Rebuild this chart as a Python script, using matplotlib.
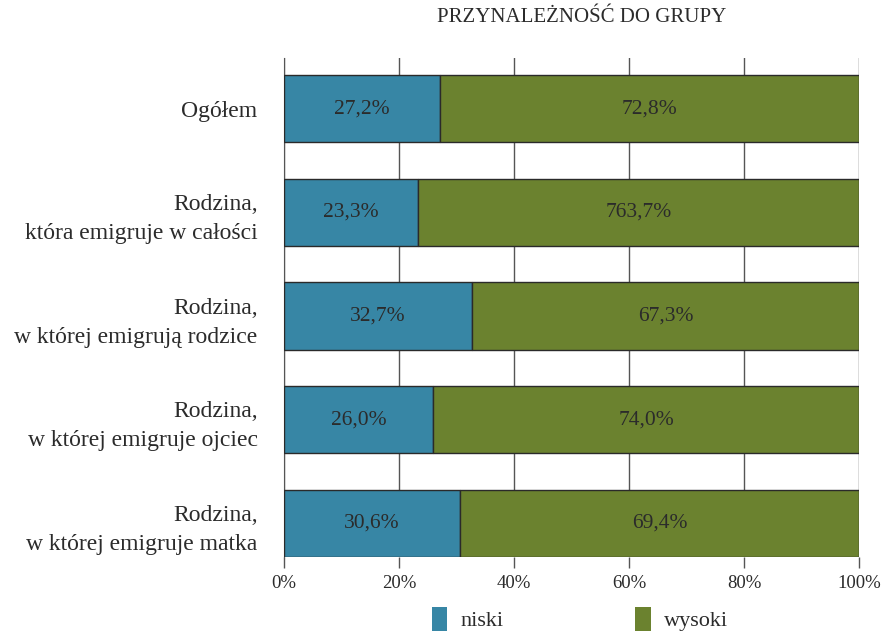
import numpy as np
import matplotlib.pyplot as plt
from matplotlib.patches import Patch

plt.rcParams['font.family'] = ['Liberation Serif', 'DejaVu Serif']

categories = ['Ogółem',
              'Rodzina,\nktóra emigruje w całości',
              'Rodzina,\nw której emigrują rodzice',
              'Rodzina,\nw której emigruje ojciec',
              'Rodzina,\nw której emigruje matka']
niski = [27.2, 23.3, 32.7, 26.0, 30.6]
wysoki = [72.8, 76.7, 67.3, 74.0, 69.4]
niski_labels = ['27,2%', '23,3%', '32,7%', '26,0%', '30,6%']
wysoki_labels = ['72,8%', '763,7%', '67,3%', '74,0%', '69,4%']
xticks = [0, 20, 40, 60, 80, 100]

c_blue = '#3786a5'
c_green = '#6b822f'
txt = '#2b2b2b'

fig = plt.figure(figsize=(8.86, 6.34), dpi=100)
ax = fig.add_axes([0.3205, 0.1215, 0.649, 0.787])

y = np.arange(len(categories))
h = 0.65
ax.barh(y, niski, height=h, color=c_blue, edgecolor='#2a2a2a', linewidth=1, zorder=3)
ax.barh(y, wysoki, left=niski, height=h, color=c_green, edgecolor='#2a2a2a', linewidth=1, zorder=3)

for i in range(len(categories)):
    ax.text(niski[i] / 2, y[i], niski_labels[i], ha='center', va='center',
            fontsize=15.5, color=txt, zorder=4)
    ax.text(niski[i] + wysoki[i] / 2, y[i], wysoki_labels[i], ha='center', va='center',
            fontsize=15.5, color=txt, zorder=4)

ax.set_xlim(0, 100)
ax.set_ylim(4.325, -0.49)
ax.set_xticks(xticks)
ax.set_xticklabels([f'{v}%' for v in xticks], fontsize=13.5, color=txt)
ax.set_yticks(y)
ax.set_yticklabels(categories, fontsize=17, color=txt, multialignment='right',
                   linespacing=1.5)
ax.tick_params(axis='y', length=0, pad=19)
ax.tick_params(axis='x', length=8, width=1, color='#555555', pad=5)
ax.grid(axis='x', color='#555555', linewidth=1, zorder=0)
for s in ['top', 'right', 'bottom']:
    ax.spines[s].set_visible(False)
ax.spines['left'].set_color('#555555')

fig.text(582 / 886, 1 - 18 / 634, 'PRZYNALEŻNOŚĆ DO GRUPY', ha='center', va='center',
         fontsize=15, color=txt)

handles = [Patch(facecolor=c_blue, edgecolor='none', label='niski'),
           Patch(facecolor=c_green, edgecolor='none', label='wysoki')]
fig.legend(handles=handles, loc='center', bbox_to_anchor=(580 / 886, 1 - 619 / 634),
           ncol=2, frameon=False, fontsize=16, handlelength=0.7, handleheight=1.3,
           columnspacing=5.9, handletextpad=0.6, labelcolor=txt)

fig.savefig('out.png', dpi=100)
